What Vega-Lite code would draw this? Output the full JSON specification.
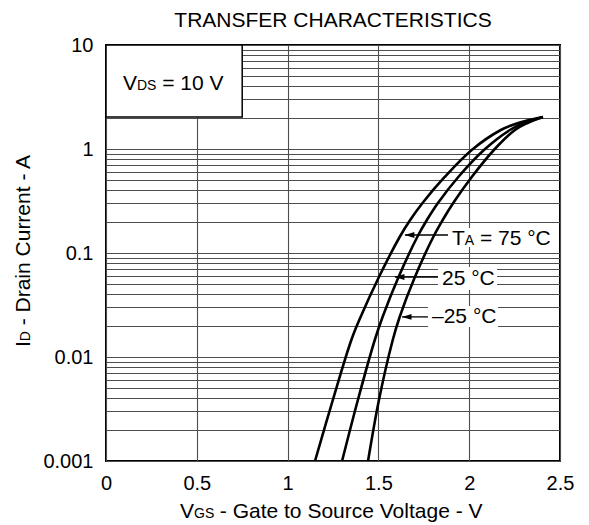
{
  "$schema": "https://vega.github.io/schema/vega-lite/v6.json",
  "width": 454,
  "height": 416,
  "autosize": {"type": "none"},
  "padding": {"left": 106, "top": 45, "right": 29, "bottom": 64},
  "background": "white",
  "config": {
    "font": "Liberation Sans",
    "view": {"stroke": "black", "strokeWidth": 2}
  },
  "title": {
    "text": "TRANSFER CHARACTERISTICS",
    "fontSize": 21,
    "fontWeight": "normal",
    "color": "black",
    "anchor": "middle",
    "offset": 4,
    "font": "Liberation Sans"
  },
  "datasets": {
    "curves": [
      {"T": "75", "x": 1.151, "y": 0.001},
      {"T": "75", "x": 1.249, "y": 0.00386},
      {"T": "75", "x": 1.351, "y": 0.01457},
      {"T": "75", "x": 1.402, "y": 0.02425},
      {"T": "75", "x": 1.503, "y": 0.05876},
      {"T": "75", "x": 1.617, "y": 0.1425},
      {"T": "75", "x": 1.675, "y": 0.2076},
      {"T": "75", "x": 1.743, "y": 0.3026},
      {"T": "75", "x": 1.865, "y": 0.5381},
      {"T": "75", "x": 2.014, "y": 0.978},
      {"T": "75", "x": 2.174, "y": 1.523},
      {"T": "75", "x": 2.270, "y": 1.778},
      {"T": "75", "x": 2.406, "y": 2.03},
      {"T": "25", "x": 1.300, "y": 0.001},
      {"T": "25", "x": 1.387, "y": 0.00386},
      {"T": "25", "x": 1.480, "y": 0.01457},
      {"T": "25", "x": 1.523, "y": 0.02425},
      {"T": "25", "x": 1.611, "y": 0.05876},
      {"T": "25", "x": 1.714, "y": 0.1425},
      {"T": "25", "x": 1.767, "y": 0.2076},
      {"T": "25", "x": 1.828, "y": 0.3026},
      {"T": "25", "x": 1.940, "y": 0.5381},
      {"T": "25", "x": 2.081, "y": 0.978},
      {"T": "25", "x": 2.224, "y": 1.523},
      {"T": "25", "x": 2.301, "y": 1.778},
      {"T": "25", "x": 2.406, "y": 2.03},
      {"T": "-25", "x": 1.443, "y": 0.001},
      {"T": "-25", "x": 1.503, "y": 0.00386},
      {"T": "-25", "x": 1.579, "y": 0.01457},
      {"T": "-25", "x": 1.617, "y": 0.02425},
      {"T": "-25", "x": 1.701, "y": 0.05876},
      {"T": "-25", "x": 1.802, "y": 0.1425},
      {"T": "-25", "x": 1.854, "y": 0.2076},
      {"T": "-25", "x": 1.912, "y": 0.3026},
      {"T": "-25", "x": 2.014, "y": 0.5381},
      {"T": "-25", "x": 2.136, "y": 0.978},
      {"T": "-25", "x": 2.252, "y": 1.523},
      {"T": "-25", "x": 2.321, "y": 1.778},
      {"T": "-25", "x": 2.406, "y": 2.03}
    ],
    "box": [{"x": 0, "x2": 0.75, "y": 2.03, "y2": 10}],
    "labelBg": [
      {"x": 1.878, "x2": 2.461, "y": 0.1142, "y2": 0.1739},
      {"x": 1.828, "x2": 2.153, "y": 0.0441, "y2": 0.0734},
      {"x": 1.773, "x2": 2.159, "y": 0.0194, "y2": 0.0309}
    ],
    "arrows": [
      {"T": "75", "x": 1.646, "x2": 1.883, "y": 0.149},
      {"T": "25", "x": 1.591, "x2": 1.828, "y": 0.0588},
      {"T": "-25", "x": 1.630, "x2": 1.773, "y": 0.0243}
    ],
    "textBig": [
      {"x": 0.0936, "y": 3.692, "t": "V"},
      {"x": 0.3097, "y": 3.692, "t": "= 10 V"},
      {"x": 1.9053, "y": 0.1194, "t": "T"},
      {"x": 2.059, "y": 0.1194, "t": "= 75 °C"},
      {"x": 1.8502, "y": 0.0492, "t": "25 °C"},
      {"x": 1.7952, "y": 0.02123, "t": "–25 °C"},
      {"x": 0.4075, "y": 0.000283, "t": "V"},
      {"x": 0.6269, "y": 0.000283, "t": "- Gate to Source Voltage - V"}
    ],
    "textSmall": [
      {"x": 0.1707, "y": 3.692, "t": "DS"},
      {"x": 1.9758, "y": 0.1194, "t": "A"},
      {"x": 0.4846, "y": 0.000283, "t": "GS"}
    ],
    "yTitleBig": [
      {"x": -0.4185, "y": 0.01248, "t": "I"},
      {"x": -0.4185, "y": 0.02017, "t": "- Drain Current - A"}
    ],
    "yTitleSmall": [
      {"x": -0.4185, "y": 0.01419, "t": "D"}
    ]
  },
  "encoding": {
    "x": {
      "field": "x",
      "type": "quantitative",
      "scale": {"type": "linear", "domain": [0, 2.5], "nice": false, "zero": false},
      "axis": {
        "title": null,
        "values": [0, 0.5, 1, 1.5, 2, 2.5],
        "grid": true,
        "gridColor": "#4d4d4d",
        "gridWidth": 1.1,
        "ticks": false,
        "domain": false,
        "labelFontSize": 20,
        "labelColor": "black",
        "labelFont": "Liberation Sans",
        "labelPadding": 12,
        "labelFlush": false,
        "labelOverlap": false,
        "labelExpr": "format(datum.value, '~g')"
      }
    },
    "y": {
      "field": "y",
      "type": "quantitative",
      "scale": {"type": "log", "domain": [0.001, 10], "nice": false},
      "axis": {
        "title": null,
        "values": [0.001, 0.002, 0.003, 0.004, 0.005, 0.006, 0.007, 0.008, 0.009,
                   0.01, 0.02, 0.03, 0.04, 0.05, 0.06, 0.07, 0.08, 0.09,
                   0.1, 0.2, 0.3, 0.4, 0.5, 0.6, 0.7, 0.8, 0.9,
                   1, 2, 3, 4, 5, 6, 7, 8, 9, 10],
        "grid": true,
        "gridColor": "#4d4d4d",
        "gridWidth": 1.1,
        "ticks": false,
        "domain": false,
        "labelFontSize": 20,
        "labelColor": "black",
        "labelFont": "Liberation Sans",
        "labelPadding": 13,
        "labelOverlap": false,
        "labelFlush": false,
        "labelExpr": "indexof([0.001, 0.01, 0.1, 1, 10], datum.value) >= 0 ? format(datum.value, '~g') : ''"
      }
    }
  },
  "layer": [
    {
      "data": {"name": "labelBg"},
      "mark": {"type": "rect", "fill": "white", "strokeWidth": 0},
      "encoding": {"x2": {"field": "x2"}, "y2": {"field": "y2"}}
    },
    {
      "data": {"name": "box"},
      "mark": {"type": "rect", "fill": "white", "stroke": "black", "strokeWidth": 1.5},
      "encoding": {"x2": {"field": "x2"}, "y2": {"field": "y2"}}
    },
    {
      "data": {"name": "curves"},
      "mark": {"type": "line", "color": "black", "strokeWidth": 2.6, "interpolate": "catmull-rom"},
      "encoding": {"detail": {"field": "T"}}
    },
    {
      "data": {"name": "arrows"},
      "mark": {"type": "rule", "color": "black", "strokeWidth": 1.3},
      "encoding": {"x2": {"field": "x2"}}
    },
    {
      "data": {"name": "arrows"},
      "mark": {"type": "point", "shape": "M0,0L2,-0.62L2,0.62Z", "size": 90, "filled": true, "color": "black", "opacity": 1, "strokeWidth": 0},
      "encoding": {}
    },
    {
      "data": {"name": "textBig"},
      "mark": {"type": "text", "align": "left", "baseline": "alphabetic", "fontSize": 21, "color": "black", "font": "Liberation Sans"},
      "encoding": {"text": {"field": "t"}}
    },
    {
      "data": {"name": "textSmall"},
      "mark": {"type": "text", "align": "left", "baseline": "alphabetic", "fontSize": 14, "color": "black", "font": "Liberation Sans"},
      "encoding": {"text": {"field": "t"}}
    },
    {
      "data": {"name": "yTitleBig"},
      "mark": {"type": "text", "align": "left", "baseline": "alphabetic", "angle": 270, "fontSize": 21, "color": "black", "font": "Liberation Sans"},
      "encoding": {"text": {"field": "t"}}
    },
    {
      "data": {"name": "yTitleSmall"},
      "mark": {"type": "text", "align": "left", "baseline": "alphabetic", "angle": 270, "fontSize": 14, "color": "black", "font": "Liberation Sans"},
      "encoding": {"text": {"field": "t"}}
    }
  ]
}
